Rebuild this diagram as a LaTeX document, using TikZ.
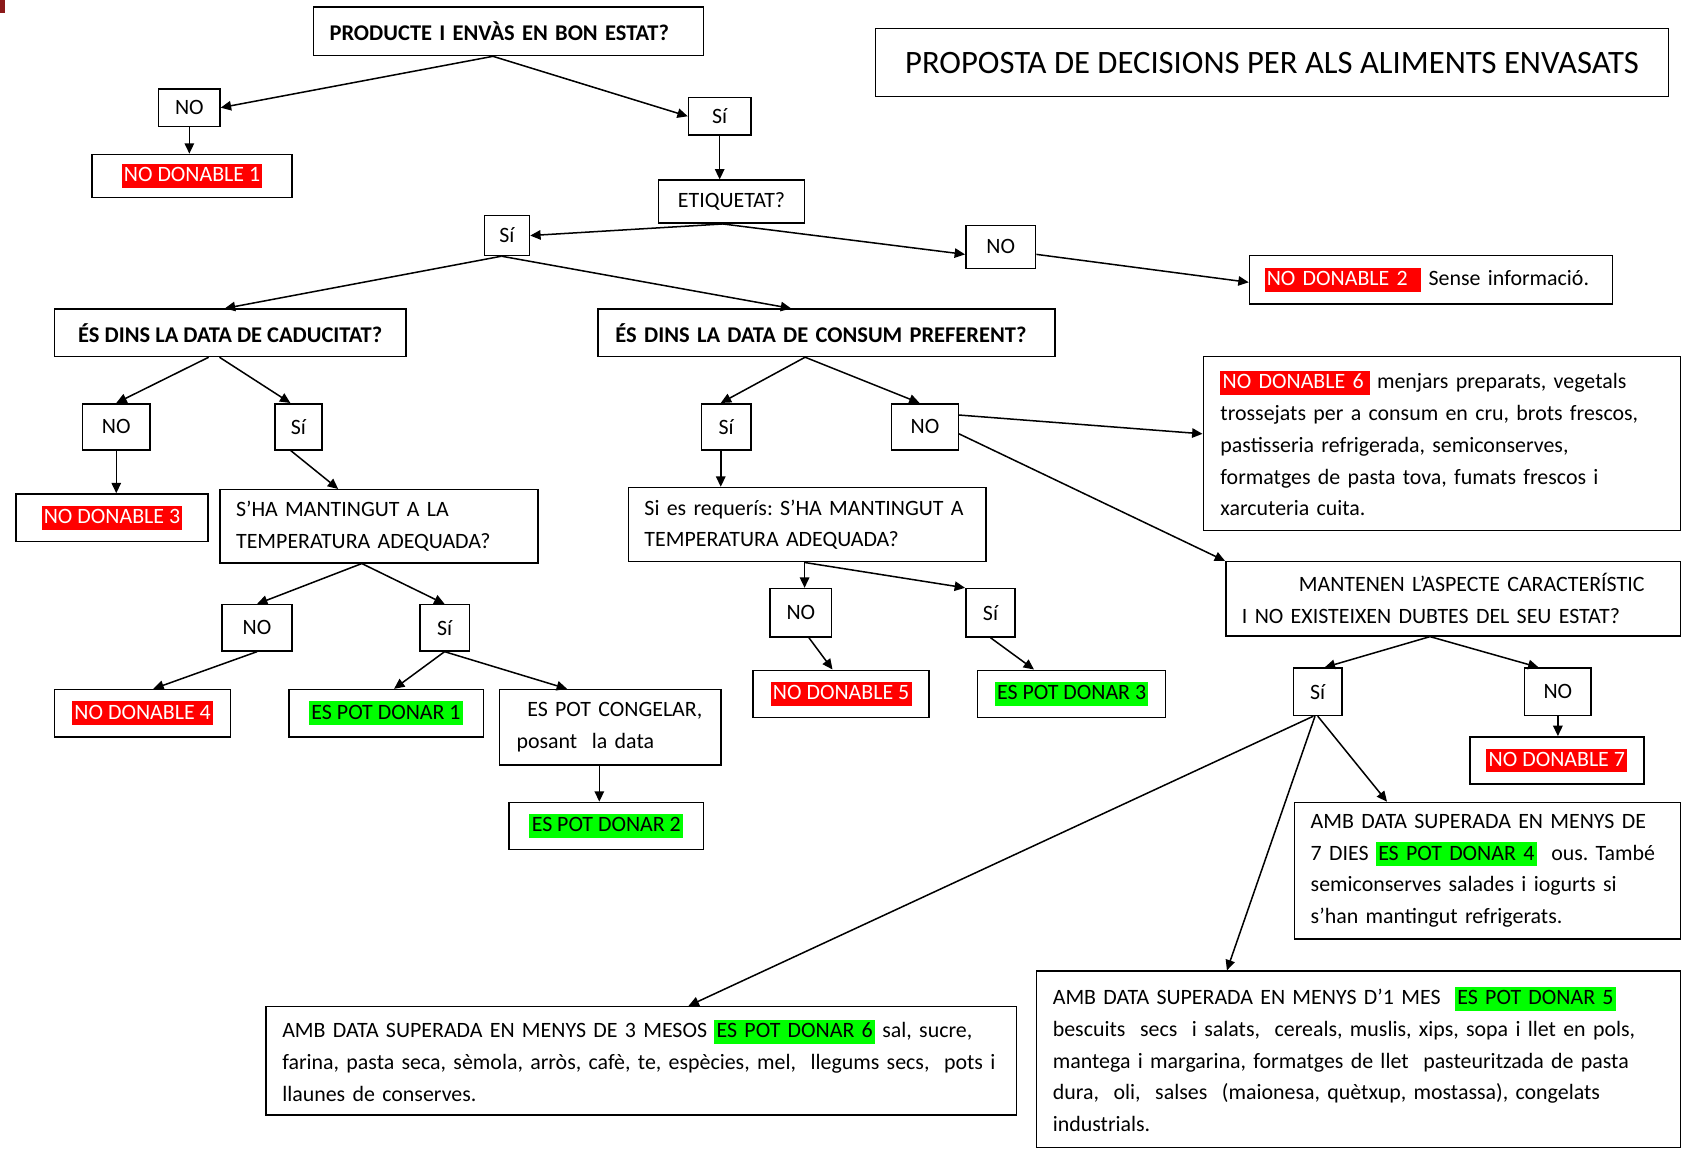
\documentclass[tikz,border=0pt]{standalone}
\usepackage{fontspec}
\setmainfont{Carlito}
\usetikzlibrary{arrows.meta}
\definecolor{hlred}{HTML}{FF0000}
\definecolor{hlgreen}{HTML}{00FF00}
\definecolor{cornerred}{HTML}{8B1A1A}
\newcommand{\redmark}[1]{{\setlength{\fboxsep}{0pt}\colorbox{hlred}{\color{white}\rule[-3.2pt]{0pt}{12.6pt}\kern1.2pt#1\kern1.2pt}}}
\newcommand{\greenmark}[1]{{\setlength{\fboxsep}{0pt}\colorbox{hlgreen}{\rule[-3.2pt]{0pt}{12.6pt}\kern1.2pt#1\kern1.2pt}}}
\newcommand{\boldq}{\fontsize{11.9}{16.8}\selectfont\bfseries}
\frenchspacing
\begin{document}
\begin{tikzpicture}[
  frame/.style={draw, line width=0.8pt, anchor=north west, inner sep=0pt, font={\fontsize{11.6}{16.8}\selectfont}},
  ans/.style={frame, align=center},
  txt/.style={frame, align=left, inner xsep=0.3cm},
  arr/.style={-{Triangle[length=5.5pt,width=5pt]}, line width=0.8pt}]
\useasboundingbox (0,0) rectangle (31.36,-21.44);
\fill[cornerred] (0,0) rectangle (0.1,-0.24);
\node[txt, text width=6.66cm, minimum height=0.9cm] (prod) at (5.82,-0.12) {\boldq PRODUCTE I ENVÀS EN BON ESTAT?};
\node[ans, minimum width=14.76cm, minimum height=1.26cm, font={\fontsize{17.3}{21}\selectfont}] (title) at (16.28,-0.52) {PROPOSTA DE DECISIONS PER ALS ALIMENTS ENVASATS};
\node[ans, minimum width=1.14cm, minimum height=0.7cm] (no1) at (2.94,-1.64) {NO};
\node[ans, minimum width=3.72cm, minimum height=0.8cm] (nd1) at (1.70,-2.86) {\redmark{NO DONABLE 1}};
\node[ans, minimum width=1.16cm, minimum height=0.7cm] (si1) at (12.80,-1.80) {Sí};
\node[ans, minimum width=2.72cm, minimum height=0.8cm] (etiq) at (12.24,-3.34) {ETIQUETAT?};
\node[ans, minimum width=0.84cm, minimum height=0.74cm] (si2) at (9.00,-4.00) {Sí};
\node[ans, minimum width=1.30cm, minimum height=0.8cm] (no2) at (17.96,-4.18) {NO};
\node[txt, inner xsep=0.28cm, text width=6.20cm, minimum height=0.9cm] (nd2) at (23.24,-4.74) {\redmark{NO DONABLE 2\hspace{6pt}} Sense informació.};
\node[ans, minimum width=6.54cm, minimum height=0.88cm] (cad) at (1.00,-5.74) {\boldq ÉS DINS LA DATA DE CADUCITAT?};
\node[txt, inner xsep=0.32cm, text width=7.86cm, minimum height=0.88cm] (cons) at (11.12,-5.74) {\boldq ÉS DINS LA DATA DE CONSUM PREFERENT?};
\node[ans, minimum width=1.26cm, minimum height=0.86cm] (no3) at (1.52,-7.50) {NO};
\node[ans, minimum width=0.88cm, minimum height=0.86cm] (si3) at (5.10,-7.50) {Sí};
\node[ans, minimum width=3.58cm, minimum height=0.88cm] (nd3) at (0.28,-9.18) {\redmark{NO DONABLE 3}};
\node[txt, text width=5.32cm, minimum height=1.36cm] (temp1) at (4.08,-9.10) {S’HA MANTINGUT A LA\\TEMPERATURA ADEQUADA?};
\node[ans, minimum width=1.30cm, minimum height=0.86cm] (no4) at (4.12,-11.24) {NO};
\node[ans, minimum width=0.92cm, minimum height=0.86cm] (si4) at (7.80,-11.24) {Sí};
\node[ans, minimum width=3.28cm, minimum height=0.88cm] (nd4) at (1.00,-12.82) {\redmark{NO DONABLE 4}};
\node[ans, minimum width=3.62cm, minimum height=0.88cm] (ok1) at (5.36,-12.82) {\greenmark{ES POT DONAR 1}};
\node[txt, inner xsep=0.22cm, text width=3.68cm, minimum height=1.40cm] (cong) at (9.28,-12.82) {\hspace*{0.3cm}ES POT CONGELAR,\\\hspace*{0.1cm}posant\ \ la data};
\node[ans, minimum width=3.62cm, minimum height=0.88cm] (ok2) at (9.46,-14.92) {\greenmark{ES POT DONAR 2}};
\node[ans, minimum width=0.92cm, minimum height=0.86cm] (si5) at (13.04,-7.50) {Sí};
\node[ans, minimum width=1.24cm, minimum height=0.86cm] (no5) at (16.58,-7.50) {NO};
\node[txt, text width=6.06cm, minimum height=1.38cm] (temp2) at (11.68,-9.06) {Si es requerís: S’HA MANTINGUT A\\TEMPERATURA ADEQUADA?};
\node[ans, minimum width=1.14cm, minimum height=0.9cm] (no6) at (14.32,-10.94) {NO};
\node[ans, minimum width=0.92cm, minimum height=0.9cm] (si6) at (17.96,-10.94) {Sí};
\node[ans, minimum width=3.28cm, minimum height=0.88cm] (nd5) at (14.00,-12.46) {\redmark{NO DONABLE 5}};
\node[ans, minimum width=3.50cm, minimum height=0.88cm] (ok3) at (18.18,-12.46) {\greenmark{ES POT DONAR 3}};
\node[txt, inner xsep=0.32cm, text width=8.24cm, minimum height=3.24cm] (nd6) at (22.38,-6.62) {\redmark{NO DONABLE 6\hspace{2pt}} menjars preparats, vegetals\\trossejats per a consum en cru, brots frescos,\\pastisseria refrigerada, semiconserves,\\formatges de pasta tova, fumats frescos i\\xarcuteria cuita.};
\node[txt, text width=7.86cm, minimum height=1.38cm] (mant) at (22.80,-10.44) {\hspace*{1.06cm}MANTENEN L’ASPECTE CARACTERÍSTIC\\I NO EXISTEIXEN DUBTES DEL SEU ESTAT?};
\node[ans, minimum width=0.90cm, minimum height=0.88cm] (si7) at (24.06,-12.42) {Sí};
\node[ans, minimum width=1.24cm, minimum height=0.88cm] (no7) at (28.36,-12.42) {NO};
\node[ans, minimum width=3.24cm, minimum height=0.88cm] (nd7) at (27.34,-13.70) {\redmark{NO DONABLE 7}};
\node[txt, text width=6.58cm, minimum height=2.54cm] (d7) at (24.08,-14.92) {AMB DATA SUPERADA EN MENYS DE\\7 DIES \greenmark{ES POT DONAR 4}\ \ ous. També\\semiconserves salades i iogurts si\\s’han mantingut refrigerats.};
\node[txt, text width=13.36cm, minimum height=2.02cm] (m3) at (4.94,-18.72) {AMB DATA SUPERADA EN MENYS DE 3 MESOS \greenmark{ES POT DONAR 6} sal, sucre,\\farina, pasta seca, sèmola, arròs, cafè, te, espècies, mel,\ \ llegums secs,\ \ pots i\\llaunes de conserves.};
\node[txt, text width=11.38cm, minimum height=3.28cm] (m1) at (19.28,-18.06) {AMB DATA SUPERADA EN MENYS D’1 MES\ \ \greenmark{ES POT DONAR 5}\\bescuits\ \ secs\ \ i salats,\ \ cereals, muslis, xips, sopa i llet en pols,\\mantega i margarina, formatges de llet\ \ pasteuritzada de pasta\\dura,\ \ oli,\ \ salses\ \ (maionesa, quètxup, mostassa), congelats\\industrials.};
\draw[arr] ([xshift=-0.29cm]prod.south) -- (no1.east);
\draw[arr] ([xshift=-0.29cm]prod.south) -- (si1.west);
\draw[arr] (no1.south) -- (no1.south |- nd1.north);
\draw[arr] (si1.south) -- (si1.south |- etiq.north);
\draw[arr] ([xshift=-0.16cm]etiq.south) -- (si2.east);
\draw[arr] ([xshift=-0.16cm]etiq.south) -- ([yshift=-0.14cm]no2.west);
\draw[arr] ([yshift=-0.14cm]no2.east) -- ([yshift=-0.05cm]nd2.west);
\draw[arr] ([xshift=-0.1cm]si2.south) -- ([xshift=-0.1cm]cad.north);
\draw[arr] ([xshift=-0.1cm]si2.south) -- ([xshift=-0.66cm]cons.north);
\draw[arr] ([xshift=-0.4cm]cad.south) -- (no3.north);
\draw[arr] ([xshift=-0.2cm]cad.south) -- ([xshift=-0.15cm]si3.north);
\draw[arr] (no3.south) -- (no3.south |- nd3.north);
\draw[arr] ([xshift=-0.14cm]si3.south) -- ([xshift=-0.76cm]temp1.north);
\draw[arr] ([xshift=-0.32cm]temp1.south) -- (no4.north);
\draw[arr] ([xshift=-0.32cm]temp1.south) -- (si4.north);
\draw[arr] (no4.south) -- ([xshift=0.2cm]nd4.north);
\draw[arr] (si4.south) -- ([xshift=0.15cm]ok1.north);
\draw[arr] (si4.south) -- ([xshift=-0.8cm]cong.north);
\draw[arr] ([xshift=-0.2cm]cong.south) -- ([xshift=-0.2cm]cong.south |- ok2.north);
\draw[arr] ([xshift=-0.4cm]cons.south) -- ([xshift=-0.1cm]si5.north);
\draw[arr] ([xshift=-0.4cm]cons.south) -- ([xshift=-0.1cm]no5.north);
\draw[arr] ([xshift=-0.1cm]si5.south) -- ([xshift=-0.1cm]si5.south |- temp2.north);
\draw[arr] ([yshift=0.22cm]no5.east) -- ([yshift=0.18cm]nd6.west);
\draw[arr] ([yshift=-0.13cm]no5.east) -- (mant.north west);
\draw[arr] ([xshift=-0.05cm]temp2.south) -- ([xshift=-0.05cm]temp2.south |- no6.north);
\draw[arr] ([xshift=-0.05cm]temp2.south) -- (si6.north west);
\draw[arr] ([xshift=0.15cm]no6.south) -- ([xshift=-0.16cm]nd5.north);
\draw[arr] (si6.south) -- ([xshift=-0.7cm]ok3.north);
\draw[arr] ([xshift=-0.43cm]mant.south) -- ([xshift=0.13cm]si7.north);
\draw[arr] ([xshift=-0.43cm]mant.south) -- ([xshift=-0.36cm]no7.north);
\draw[arr] (no7.south) -- (no7.south |- nd7.north);
\draw[arr] ([xshift=-0.08cm]si7.south) -- ([xshift=0.88cm]m3.north);
\draw[arr] ([xshift=-0.05cm]si7.south) -- ([xshift=-2.45cm]m1.north);
\draw[arr] (si7.south) -- ([xshift=-1.87cm]d7.north);
\end{tikzpicture}
\end{document}
